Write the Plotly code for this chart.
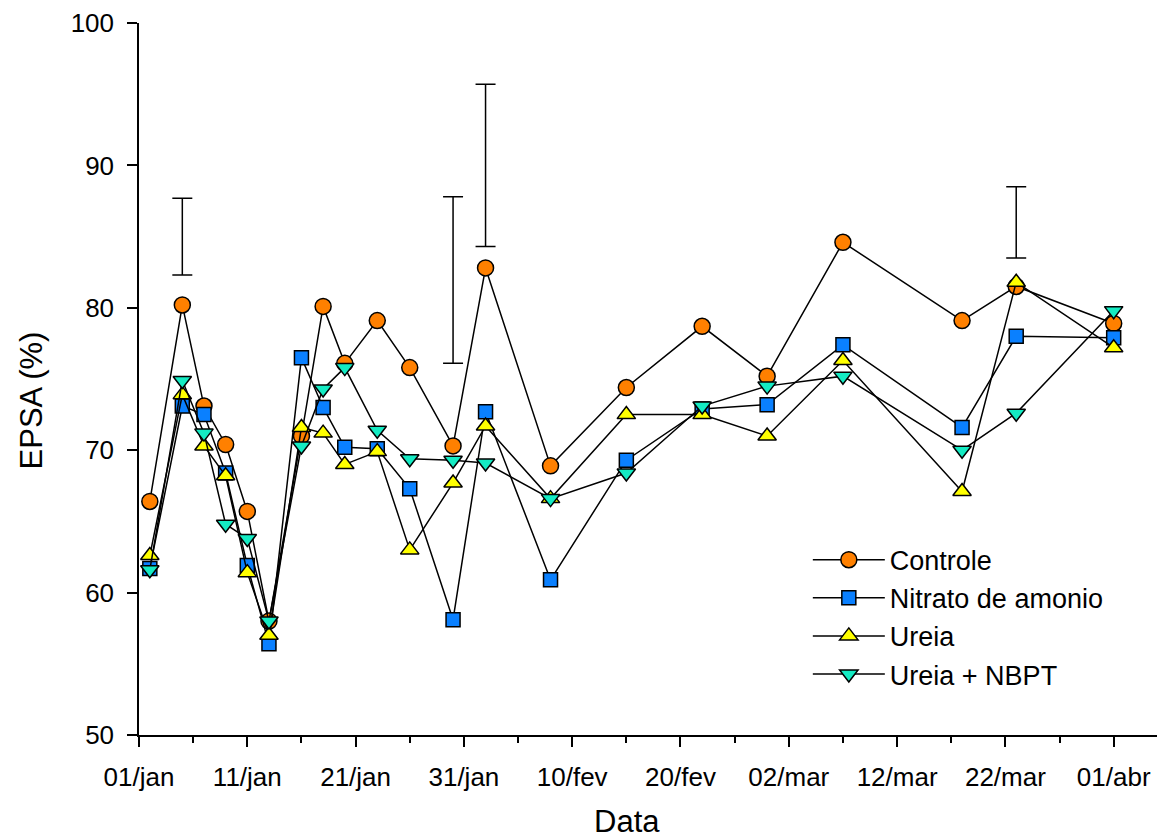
import plotly.graph_objects as go

dates = ["2015-01-02", "2015-01-05", "2015-01-07", "2015-01-09", "2015-01-11",
         "2015-01-13", "2015-01-16", "2015-01-18", "2015-01-20", "2015-01-23",
         "2015-01-26", "2015-01-30", "2015-02-02", "2015-02-08", "2015-02-15",
         "2015-02-22", "2015-02-28", "2015-03-07", "2015-03-18", "2015-03-23",
         "2015-04-01"]

controle = [66.4, 80.2, 73.1, 70.4, 65.7, 58.0, 71.0, 80.1, 76.1, 79.1, 75.8,
            70.3, 82.8, 68.9, 74.4, 78.7, 75.2, 84.6, 79.1, 81.5, 78.9]
nitrato = [61.7, 73.1, 72.5, 68.4, 61.9, 56.4, 76.5, 73.0, 70.2, 70.1, 67.3,
           58.1, 72.7, 60.9, 69.3, 72.9, 73.2, 77.4, 71.6, 78.0, 77.9]
ureia = [62.6, 73.9, 70.3, 68.2, 61.4, 57.0, 71.6, 71.2, 69.0, 69.9, 63.0,
         67.7, 71.7, 66.6, 72.5, 72.5, 71.0, 76.3, 67.1, 81.8, 77.2]
ureia_nbpt = [61.6, 74.9, 71.2, 64.8, 63.8, 58.0, 70.3, 74.3, 75.8, 71.4, 69.4,
              69.3, 69.1, 66.6, 68.4, 73.1, 74.5, 75.2, 70.0, 72.6, 79.8]

# LSD bars (floating error bars): date, centre, half-length
bar_dates = ["2015-01-05", "2015-01-30", "2015-02-02", "2015-03-23"]
bar_centre = [85.0, 81.95, 90.0, 86.0]
bar_half = [2.7, 5.85, 5.7, 2.5]

tick_vals = ["2015-01-01", "2015-01-11", "2015-01-21", "2015-01-31", "2015-02-10",
             "2015-02-20", "2015-03-02", "2015-03-12", "2015-03-22", "2015-04-01"]
tick_text = ["01/jan", "11/jan", "21/jan", "31/jan", "10/fev", "20/fev",
             "02/mar", "12/mar", "22/mar", "01/abr"]
minor_vals = ["2015-01-06", "2015-01-16", "2015-01-26", "2015-02-05", "2015-02-15",
              "2015-02-25", "2015-03-07", "2015-03-17", "2015-03-27"]

FONT = "Liberation Sans, Arial, sans-serif"

series = [
    ("Controle", controle, "circle", "#FF8000", 16),
    ("Nitrato de amonio", nitrato, "square", "#0A80FF", 14),
    ("Ureia", ureia, "triangle-up", "#FFFF00", 16),
    ("Ureia + NBPT", ureia_nbpt, "triangle-down", "#14EBC3", 16),
]

fig = go.Figure()
for name, vals, sym, col, sz in series:
    fig.add_trace(go.Scatter(
        x=dates, y=vals, name=name, mode="lines+markers",
        line=dict(color="black", width=1.5),
        marker=dict(symbol=sym, size=sz, color=col,
                    line=dict(color="black", width=1.5)),
    ))

fig.add_trace(go.Scatter(
    x=bar_dates, y=bar_centre, mode="markers", showlegend=False,
    marker=dict(size=1, color="rgba(0,0,0,0)"),
    error_y=dict(type="data", array=bar_half, symmetric=True,
                 color="black", thickness=1.5, width=10),
))

fig.update_layout(
    width=1157, height=838,
    margin=dict(l=139, r=0, t=23, b=103),
    paper_bgcolor="white", plot_bgcolor="white",
    font=dict(family=FONT, size=26, color="black"),
    showlegend=True,
    legend=dict(x=0.657, y=0.280, xanchor="left", yanchor="top",
                bgcolor="rgba(0,0,0,0)", font=dict(size=27),
                itemwidth=72, tracegroupgap=0),
    annotations=[
        dict(text="Data", xref="paper", yref="paper", x=0.479, y=-0.122,
             xanchor="center", yanchor="middle", showarrow=False,
             font=dict(size=31)),
        dict(text="EPSA (%)", xref="paper", yref="paper", x=-0.106, y=0.47,
             xanchor="center", yanchor="middle", showarrow=False,
             textangle=-90, font=dict(size=31)),
    ],
)

fig.update_xaxes(
    type="date", range=["2015-01-01", "2015-04-05"],
    tickmode="array", tickvals=tick_vals, ticktext=tick_text,
    ticks="outside", ticklen=10, tickwidth=1.5, tickcolor="black",
    minor=dict(tickmode="array", tickvals=minor_vals, ticks="outside",
               ticklen=6, tickwidth=1.5, tickcolor="black", showgrid=False),
    showline=True, linecolor="black", linewidth=1.5,
    showgrid=False, zeroline=False, ticklabelstandoff=8,
    tickfont=dict(size=26),
)
fig.update_yaxes(
    range=[50, 100], dtick=10, tick0=50,
    ticks="outside", ticklen=10, tickwidth=1.5, tickcolor="black",
    showline=True, linecolor="black", linewidth=1.5,
    showgrid=False, zeroline=False, ticklabelstandoff=8,
    tickfont=dict(size=26),
)

fig.write_html("out.html",
               config={"displayModeBar": False},
               post_script="document.body.style.margin='0';"
                           "document.body.style.overflow='hidden';")
